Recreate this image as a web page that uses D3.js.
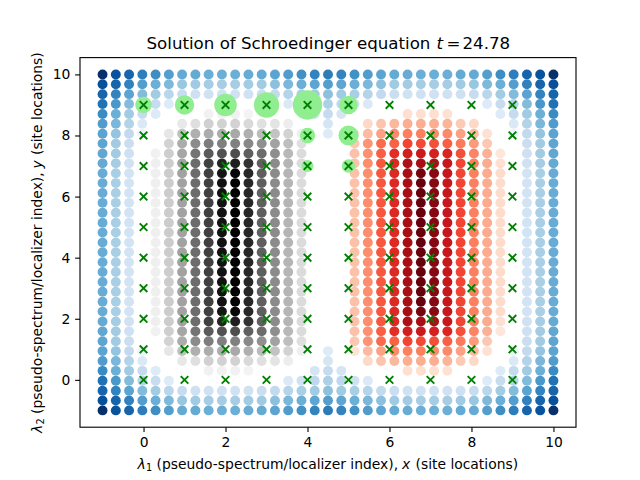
<!DOCTYPE html>
<html>
<head>
<meta charset="utf-8">
<script src="https://cdn.jsdelivr.net/npm/d3@7"></script>
<style>
html,body{margin:0;padding:0;background:#fff}
svg{display:block}
text{font-family:"DejaVu Sans";fill:#000}
</style>
</head>
<body>
<script>
const titleLabel = "Solution of Schroedinger equation";
const timeValue = "24.78";
const xTicks = [0,2,4,6,8,10];
const yTicks = [0,2,4,6,8,10];
const gridX = [-1,-0.676,-0.353,-0.029,0.294,0.618,0.941,1.265,1.588,1.912,2.235,2.559,2.882,3.206,3.529,3.853,4.176,4.5,4.824,5.147,5.471,5.794,6.118,6.441,6.765,7.088,7.412,7.735,8.059,8.382,8.706,9.029,9.353,9.676,10];
const gridY = [10,9.676,9.353,9.029,8.706,8.382,8.059,7.735,7.412,7.088,6.765,6.441,6.118,5.794,5.471,5.147,4.824,4.5,4.176,3.853,3.529,3.206,2.882,2.559,2.235,1.912,1.588,1.265,0.941,0.618,0.294,-0.029,-0.353,-0.676,-1];
const siteX = [0,1,2,3,4,5,6,7,8,9];
const siteY = [0,1,2,3,4,5,6,7,8,9];
const bubbleX = [0,1,2,3,4,5,4,5,4,5];
const bubbleY = [9,9,9,9,9,9,8,8,7,7];
const bubbleWeight = [69,94,128,161,216,86,59,100,36,45];

const blueValues = [
[100,87,80,70,64,57,52,52,50,50,50,51,52,55,58,63,68,71,68,63,58,55,52,51,50,50,50,52,52,57,64,70,80,87,100],
[88,80,69,57,50,45,39,37,35,35,35,36,37,42,46,50,54,57,54,50,46,42,37,36,35,35,35,37,39,45,50,57,69,80,88],
[80,68,55,44,36,29,24,21,20,20,20,20,23,26,30,34,37,42,37,34,30,26,23,20,20,20,20,21,24,29,36,44,55,68,80],
[75,60,44,30,24,13,0,0,0,0,0,0,0,0,14,20,27,33,27,20,14,0,0,0,0,0,0,0,0,13,24,30,44,60,75],
[65,50,37,25,13,0,0,0,0,0,0,0,0,0,0,0,17,25,17,0,0,0,0,0,0,0,0,0,0,0,13,25,37,50,65],
[58,46,31,14,0,0,0,0,0,0,0,0,0,0,0,0,0,17,0,0,0,0,0,0,0,0,0,0,0,0,0,14,31,46,58],
[55,40,26,6,0,0,0,0,0,0,0,0,0,0,0,0,0,13,0,0,0,0,0,0,0,0,0,0,0,0,0,6,26,40,55],
[54,37,23,0,0,0,0,0,0,0,0,0,0,0,0,0,0,0,0,0,0,0,0,0,0,0,0,0,0,0,0,0,23,37,54],
[53,36,21,0,0,0,0,0,0,0,0,0,0,0,0,0,0,0,0,0,0,0,0,0,0,0,0,0,0,0,0,0,21,36,53],
[52,35,20,0,0,0,0,0,0,0,0,0,0,0,0,0,0,0,0,0,0,0,0,0,0,0,0,0,0,0,0,0,20,35,52],
[51,34,19,0,0,0,0,0,0,0,0,0,0,0,0,0,0,0,0,0,0,0,0,0,0,0,0,0,0,0,0,0,19,34,51],
[51,34,19,0,0,0,0,0,0,0,0,0,0,0,0,0,0,0,0,0,0,0,0,0,0,0,0,0,0,0,0,0,19,34,51],
[51,34,19,0,0,0,0,0,0,0,0,0,0,0,0,0,0,0,0,0,0,0,0,0,0,0,0,0,0,0,0,0,19,34,51],
[51,34,19,0,0,0,0,0,0,0,0,0,0,0,0,0,0,0,0,0,0,0,0,0,0,0,0,0,0,0,0,0,19,34,51],
[51,34,19,0,0,0,0,0,0,0,0,0,0,0,0,0,0,0,0,0,0,0,0,0,0,0,0,0,0,0,0,0,19,34,51],
[51,34,19,0,0,0,0,0,0,0,0,0,0,0,0,0,0,0,0,0,0,0,0,0,0,0,0,0,0,0,0,0,19,34,51],
[51,34,19,0,0,0,0,0,0,0,0,0,0,0,0,0,0,0,0,0,0,0,0,0,0,0,0,0,0,0,0,0,19,34,51],
[51,34,19,0,0,0,0,0,0,0,0,0,0,0,0,0,0,0,0,0,0,0,0,0,0,0,0,0,0,0,0,0,19,34,51],
[51,34,19,0,0,0,0,0,0,0,0,0,0,0,0,0,0,0,0,0,0,0,0,0,0,0,0,0,0,0,0,0,19,34,51],
[51,34,19,0,0,0,0,0,0,0,0,0,0,0,0,0,0,0,0,0,0,0,0,0,0,0,0,0,0,0,0,0,19,34,51],
[51,34,19,0,0,0,0,0,0,0,0,0,0,0,0,0,0,0,0,0,0,0,0,0,0,0,0,0,0,0,0,0,19,34,51],
[51,34,19,0,0,0,0,0,0,0,0,0,0,0,0,0,0,0,0,0,0,0,0,0,0,0,0,0,0,0,0,0,19,34,51],
[51,34,19,0,0,0,0,0,0,0,0,0,0,0,0,0,0,0,0,0,0,0,0,0,0,0,0,0,0,0,0,0,19,34,51],
[51,34,19,0,0,0,0,0,0,0,0,0,0,0,0,0,0,0,0,0,0,0,0,0,0,0,0,0,0,0,0,0,19,34,51],
[51,34,19,0,0,0,0,0,0,0,0,0,0,0,0,0,0,0,0,0,0,0,0,0,0,0,0,0,0,0,0,0,19,34,51],
[52,35,20,0,0,0,0,0,0,0,0,0,0,0,0,0,0,0,0,0,0,0,0,0,0,0,0,0,0,0,0,0,20,35,52],
[53,36,21,0,0,0,0,0,0,0,0,0,0,0,0,0,0,0,0,0,0,0,0,0,0,0,0,0,0,0,0,0,21,36,53],
[54,37,23,0,0,0,0,0,0,0,0,0,0,0,0,0,0,0,0,0,0,0,0,0,0,0,0,0,0,0,0,0,23,37,54],
[55,40,26,6,0,0,0,0,0,0,0,0,0,0,0,0,0,13,0,0,0,0,0,0,0,0,0,0,0,0,0,6,26,40,55],
[58,46,31,14,0,0,0,0,0,0,0,0,0,0,0,0,0,17,0,0,0,0,0,0,0,0,0,0,0,0,0,14,31,46,58],
[65,50,37,25,13,0,0,0,0,0,0,0,0,0,0,0,17,25,17,0,0,0,0,0,0,0,0,0,0,0,13,25,37,50,65],
[75,60,44,30,24,13,0,0,0,0,0,0,0,0,14,20,27,33,27,20,14,0,0,0,0,0,0,0,0,13,24,30,44,60,75],
[80,68,55,44,36,29,24,21,20,20,20,20,23,26,30,34,37,42,37,34,30,26,23,20,20,20,20,21,24,29,36,44,55,68,80],
[88,80,69,57,50,45,39,37,35,35,35,36,37,42,46,50,54,57,54,50,46,42,37,36,35,35,35,37,39,45,50,57,69,80,88],
[100,87,80,70,64,57,52,52,50,50,50,51,52,55,58,63,68,71,68,63,58,55,52,51,50,50,50,52,52,57,64,70,80,87,100]
];

const greyRowsFrom4 = [
[0,0,0,0,0,0,0,0,12,12,12,10,0,0,0,0],
[0,0,0,0,0,0,17,22,29,28,28,25,21,19,14,0],
[0,0,0,0,0,18,36,42,43,43,44,42,38,35,28,13],
[0,0,0,0,0,28,43,54,59,58,58,55,52,46,37,22],
[0,0,0,0,12,30,45,62,72,75,76,70,65,53,39,24],
[0,0,0,0,13,31,46,65,80,88,90,84,70,54,40,24],
[0,0,0,0,13,31,46,65,80,93,98,87,70,54,40,24],
[0,0,0,0,13,31,46,65,80,94,100,87,70,54,40,24],
[0,0,0,0,13,31,46,65,80,94,100,87,70,54,40,24],
[0,0,0,0,13,31,46,65,80,94,100,87,70,54,40,24],
[0,0,0,0,13,31,46,65,80,94,100,87,70,54,40,24],
[0,0,0,0,13,31,46,65,80,94,100,87,70,54,40,24],
[0,0,0,0,13,31,46,65,80,94,100,87,70,54,40,24],
[0,0,0,0,13,31,46,65,80,94,100,87,70,54,40,24],
[0,0,0,0,13,31,46,65,80,94,100,87,70,54,40,24],
[0,0,0,0,13,31,46,65,80,94,100,87,70,54,40,24],
[0,0,0,0,13,31,46,65,80,94,100,87,70,54,40,24],
[0,0,0,0,13,31,46,65,80,94,100,87,70,54,40,24],
[0,0,0,0,13,31,46,65,80,94,100,87,70,54,40,24],
[0,0,0,0,13,31,46,65,80,94,100,87,70,54,40,24],
[0,0,0,0,13,31,46,65,80,93,98,87,70,54,40,24],
[0,0,0,0,13,31,46,65,80,88,90,84,70,54,40,24],
[0,0,0,0,12,30,45,62,72,75,76,70,65,53,39,24],
[0,0,0,0,0,28,43,54,59,58,58,55,52,46,37,22],
[0,0,0,0,0,18,36,42,43,43,44,42,38,35,28,13],
[0,0,0,0,0,0,17,22,29,28,28,25,21,19,14,0],
[0,0,0,0,0,0,0,0,12,12,12,10,0,0,0,0]
];

const redRowsFrom4 = [
[0,0,0,0,13,13,13,12,0,0,0,0],
[0,15,22,26,29,29,29,27,20,15,0,0],
[11,25,33,40,43,43,40,40,33,25,12,0],
[21,37,50,52,60,59,57,53,45,35,21,0],
[23,38,53,67,73,75,72,70,57,42,28,9],
[23,39,55,69,85,87,86,76,60,43,30,13],
[23,39,55,69,87,97,93,77,60,43,30,14],
[23,39,55,69,87,100,94,77,60,43,30,14],
[23,39,55,69,87,100,94,77,60,43,30,14],
[23,39,55,69,87,100,94,77,60,43,30,14],
[23,39,55,69,87,100,94,77,60,43,30,14],
[23,39,55,69,87,100,94,77,60,43,30,14],
[23,39,55,69,87,100,94,77,60,43,30,14],
[23,39,55,69,87,100,94,77,60,43,30,14],
[23,39,55,69,87,100,94,77,60,43,30,14],
[23,39,55,69,87,100,94,77,60,43,30,14],
[23,39,55,69,87,100,94,77,60,43,30,14],
[23,39,55,69,87,100,94,77,60,43,30,14],
[23,39,55,69,87,100,94,77,60,43,30,14],
[23,39,55,69,87,100,94,77,60,43,30,14],
[23,39,55,69,87,97,93,77,60,43,30,14],
[23,39,55,69,85,87,86,76,60,43,30,13],
[23,38,53,67,73,75,72,70,57,42,28,9],
[21,37,50,52,60,59,57,53,45,35,21,0],
[11,25,33,40,43,43,40,40,33,25,12,0],
[0,15,22,26,29,29,29,27,20,15,0,0],
[0,0,0,0,13,13,13,12,0,0,0,0]
];

// Grey columns are given from the first grid column, red from the twentieth; both begin at the fifth grid row.
const greyStartColumn = 0, redStartColumn = 19, fieldStartRow = 4;

const W = 640, H = 480;
const pt = 100 / 72;
const margin = {left: 80, right: 576, top: 57.6, bottom: 427.2};
const x = d3.scaleLinear().domain([-1.55, 10.55]).range([margin.left, margin.right]);
const y = d3.scaleLinear().domain([-1.55, 10.55]).range([margin.bottom, margin.top]);
const r = d3.scaleSqrt().domain([0, 100]).range([0, 10]);

const stops = d3.range(9).map(k => k * 12.5);
const blues = d3.scaleLinear().domain(stops).range(["#f7fbff","#deebf7","#c6dbef","#9ecae1","#6baed6","#4292c6","#2171b5","#08519c","#08306b"]).clamp(true);
const greys = d3.scaleLinear().domain(stops).range(["#ffffff","#f0f0f0","#d9d9d9","#bdbdbd","#969696","#737373","#525252","#252525","#000000"]).clamp(true);
const reds = d3.scaleLinear().domain(stops).range(["#fff5f0","#fee0d2","#fcbba1","#fc9272","#fb6a4a","#ef3b2c","#cb181d","#a50f15","#67000d"]).clamp(true);

function cells(rows, startCol, startRow, color) {
  const out = [];
  rows.forEach((row, j) => row.forEach((v, i) => {
    if (v > 0) out.push({gx: gridX[i + startCol], gy: gridY[j + startRow], fill: color(v)});
  }));
  return out;
}

const svg = d3.select("body").append("svg").attr("width", W).attr("height", H).attr("viewBox", `0 0 ${W} ${H}`);
svg.append("rect").attr("width", W).attr("height", H).attr("fill", "#fff");

const dots = [
  ...cells(blueValues, 0, 0, blues),
  ...cells(greyRowsFrom4, greyStartColumn, fieldStartRow, greys),
  ...cells(redRowsFrom4, redStartColumn, fieldStartRow, reds)
];
svg.append("g").selectAll("circle").data(dots).join("circle")
  .attr("cx", d => x(d.gx)).attr("cy", d => y(d.gy)).attr("r", 4.95).attr("fill", d => d.fill);

svg.append("g").selectAll("circle").data(bubbleX.map((v, k) => ({v, w: bubbleY[k], s: bubbleWeight[k]}))).join("circle")
  .attr("cx", d => x(d.v)).attr("cy", d => y(d.w)).attr("r", d => r(d.s)).attr("fill", "#90ee90");

const sites = d3.cross(siteX, siteY);
svg.append("g").selectAll("path").data(sites).join("path")
  .attr("transform", d => `translate(${x(d[0])},${y(d[1])})`)
  .attr("d", "M-3.8,-3.8L3.8,3.8M-3.8,3.8L3.8,-3.8")
  .attr("fill", "none").attr("stroke", "#008000").attr("stroke-width", 1.9);

const axisB = d3.axisBottom(x).tickValues(xTicks).tickSize(3.5 * pt).tickPadding(3.5 * pt).tickFormat(d3.format("d"));
const axisL = d3.axisLeft(y).tickValues(yTicks).tickSize(3.5 * pt).tickPadding(3.5 * pt).tickFormat(d3.format("d"));
const gx = svg.append("g").attr("transform", `translate(0,${margin.bottom})`).call(axisB);
const gy = svg.append("g").attr("transform", `translate(${margin.left},0)`).call(axisL);
[gx, gy].forEach(g => {
  g.select(".domain").remove();
  g.selectAll("line").attr("stroke", "#000").attr("stroke-width", 0.8 * pt);
  g.selectAll("text").attr("font-family", "DejaVu Sans").attr("font-size", 10 * pt).attr("fill", "#000");
});
svg.append("rect").attr("x", margin.left).attr("y", margin.top)
  .attr("width", margin.right - margin.left).attr("height", margin.bottom - margin.top)
  .attr("fill", "none").attr("stroke", "#000").attr("stroke-width", 0.8 * pt);

function rich(sel, parts) {
  parts.forEach(p => {
    const t = sel.append("tspan").text(p.t).attr("x", p.x);
    if (p.i) t.attr("font-style", "italic");
    if (p.sub) t.attr("font-size", 7 * pt).attr("dy", 2);
    if (p.up) t.attr("dy", -2);
  });
}
const title = svg.append("text").attr("y", 49).attr("font-size", 12 * pt);
rich(title, [{t: titleLabel, x: 146.5}, {t: "t", i: 1, x: 436.5}, {t: "=", x: 446.5}, {t: timeValue, x: 462.5}]);

const xl = svg.append("text").attr("y", 469).attr("font-size", 10 * pt);
rich(xl, [{t: "λ", i: 1, x: 137.5}, {t: "1", sub: 1, x: 146}, {t: "(pseudo-spectrum/localizer index),", up: 1, x: 156.5}, {t: "x", i: 1, x: 402}, {t: "(site locations)", x: 415.5}]);

const yl = svg.append("text").attr("transform", "translate(42,242.4) rotate(-90)").attr("font-size", 10 * pt);
rich(yl, [{t: "λ", i: 1, x: -190.5}, {t: "2", sub: 1, x: -182}, {t: "(pseudo-spectrum/localizer index),", up: 1, x: -171.5}, {t: "y", i: 1, x: 74}, {t: "(site locations)", x: 87.5}]);
</script>
</body>
</html>
